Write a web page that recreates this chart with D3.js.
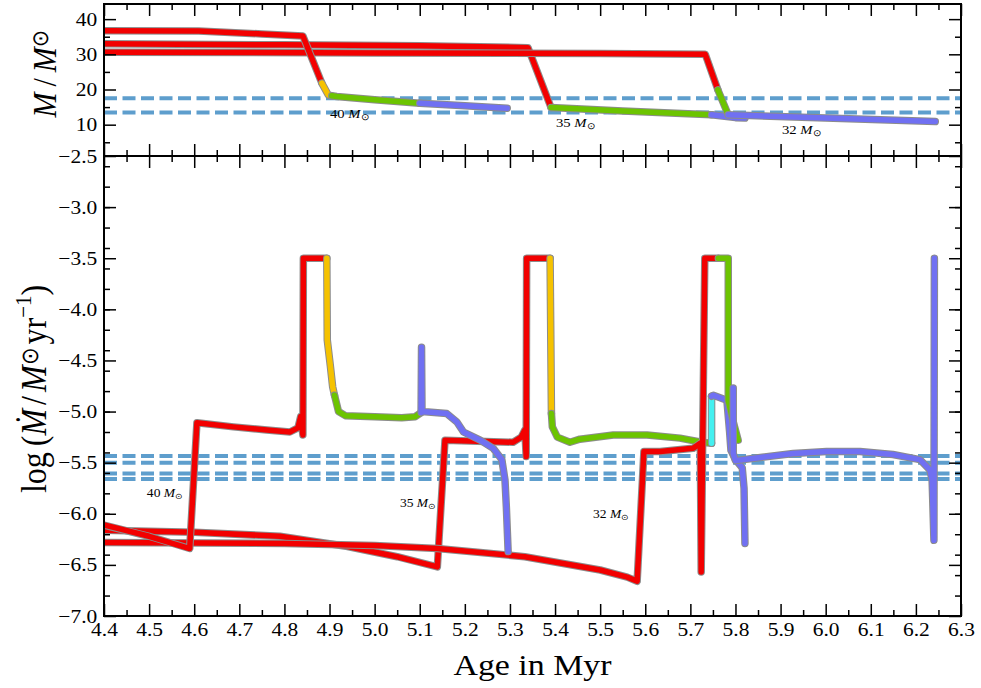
<!DOCTYPE html>
<html>
<head>
<meta charset="utf-8">
<script src="https://cdn.jsdelivr.net/npm/d3@7"></script>
<style>
  body { margin: 0; background: #fff; }
  text { font-family: "Liberation Serif", "Times New Roman", serif; fill: #000; }
</style>
</head>
<body>
<script>
// ---- data ----
const ageTicks = [4.4, 4.5, 4.6, 4.7, 4.8, 4.9, 5.0, 5.1, 5.2, 5.3, 5.4, 5.5, 5.6, 5.7, 5.8, 5.9, 6.0, 6.1, 6.2, 6.3];
const massTicks = [10, 20, 30, 40];
const massMinor = [5, 15, 25, 35];
const mdotTicks = [-2.5, -3.0, -3.5, -4.0, -4.5, -5.0, -5.5, -6.0, -6.5, -7.0];

const massLevels = [17.5, 13.45];
const mdotLevels = [-5.435, -5.50, -5.605, -5.66];

// mass tracks (Msun) : [phase, [[age, M], ...]]
const mass40 = [
  ["red", [[4.40, 36.7], [4.61, 36.6], [4.75, 35.8], [4.841, 35.2], [4.883, 21.8]]],
  ["yellow", [[4.883, 21.8], [4.897, 18.5], [4.905, 18.2]]],
  ["green", [[4.905, 18.2], [4.916, 18.0], [5.0, 17.1], [5.10, 16.1]]],
  ["blue", [[5.10, 16.1], [5.2, 15.4], [5.294, 14.7]]]
];
const mass35 = [
  ["red", [[4.40, 33.0], [4.8, 32.7], [5.1, 32.4], [5.34, 31.9], [5.391, 14.9]]],
  ["green", [[5.391, 14.9], [5.55, 13.9], [5.747, 12.8]]],
  ["blue", [[5.747, 12.8], [5.80, 12.0], [5.821, 11.9]]]
];
const mass32 = [
  ["red", [[4.40, 30.6], [5.0, 30.4], [5.5, 30.2], [5.733, 30.0], [5.761, 19.9]]],
  ["green", [[5.761, 19.9], [5.784, 12.8]]],
  ["blue", [[5.784, 12.8], [6.0, 11.9], [6.243, 10.9]]]
];

// mass-loss tracks (log Mdot)
const mdot40 = [
  ["red", [[4.40, -6.11], [4.50, -6.22], [4.59, -6.34], [4.606, -5.11], [4.687, -5.15], [4.761, -5.18],
           [4.812, -5.20], [4.83, -5.16], [4.836, -5.05], [4.841, -5.23], [4.842, -3.5], [4.894, -3.5]]],
  ["yellow", [[4.894, -3.5], [4.895, -4.3], [4.902, -4.56], [4.907, -4.76], [4.911, -4.84]]],
  ["green", [[4.911, -4.84], [4.92, -5.0], [4.935, -5.04], [5.0, -5.05], [5.06, -5.06], [5.09, -5.05], [5.103, -5.01]]],
  ["blue", [[5.103, -5.01], [5.104, -4.37], [5.105, -5.0], [5.16, -5.02], [5.182, -5.10], [5.197, -5.20],
            [5.234, -5.28], [5.263, -5.36], [5.282, -5.47], [5.289, -5.67], [5.292, -5.93], [5.296, -6.37]]]
];
const mdot35 = [
  ["red", [[4.40, -6.16], [4.60, -6.18], [4.79, -6.22], [4.94, -6.32], [5.05, -6.42], [5.139, -6.52],
           [5.156, -5.28], [5.307, -5.30], [5.325, -5.25], [5.333, -5.18], [5.336, -5.44], [5.337, -3.5], [5.389, -3.5]]],
  ["yellow", [[5.389, -3.5], [5.392, -5.02]]],
  ["green", [[5.392, -5.02], [5.394, -5.15], [5.405, -5.25], [5.433, -5.30], [5.455, -5.27], [5.529, -5.23],
             [5.604, -5.23], [5.677, -5.26], [5.725, -5.30], [5.747, -5.31]]],
  ["cyan", [[5.747, -5.31], [5.747, -4.85]]],
  ["blue", [[5.747, -4.85], [5.751, -4.84], [5.781, -4.89], [5.787, -5.2], [5.79, -5.38], [5.80, -5.47],
            [5.815, -5.55], [5.819, -5.75], [5.821, -6.29]]]
];
const mdot32 = [
  ["red", [[4.40, -6.28], [4.80, -6.29], [5.00, -6.31], [5.139, -6.34], [5.333, -6.42], [5.5, -6.55], [5.56, -6.62],
           [5.582, -6.66], [5.597, -5.39], [5.633, -5.39], [5.706, -5.36], [5.722, -5.31], [5.724, -6.57],
           [5.732, -3.5], [5.762, -3.5]]],
  ["green", [[5.762, -3.5], [5.784, -3.5], [5.784, -4.89], [5.795, -5.1], [5.806, -5.28]]],
  ["blue", [[5.795, -4.77], [5.795, -5.41], [5.80, -5.48], [5.855, -5.45], [5.928, -5.41], [6.002, -5.39],
            [6.076, -5.39], [6.149, -5.42], [6.209, -5.47], [6.231, -5.57], [6.236, -5.67], [6.240, -6.26], [6.241, -3.5]]]
];

// track labels: [text, age, value]
const massLabels = [["40", 4.901, 11.9], ["35", 5.402, 9.4], ["32", 5.903, 7.4]];
const mdotLabels = [["40", 4.495, -5.84], ["35", 5.056, -5.93], ["32", 5.484, -6.04]];

const phaseColors = { red: "#f20000", yellow: "#f5c200", green: "#6cc400", blue: "#7070f2", cyan: "#44f0f0" };

// ---- layout ----
const width = 981, height = 688;
const SX = 1.13; // the figure's text is slightly stretched horizontally

const svg = d3.select("body").append("svg").attr("width", width).attr("height", height);

const x = d3.scaleLinear().domain([4.4, 6.3]).range([104, 961]);
const yTop = d3.scaleLinear().domain([1.1, 44.3]).range([156, 4]);
const yBot = d3.scaleLinear().domain([-7, -2.5]).range([616, 156]);

const line = y => d3.line().x(d => x(d[0])).y(d => y(d[1]));

function panel(id, y) {
  const [y0, y1] = y.range();
  svg.append("clipPath").attr("id", id).append("rect")
    .attr("x", 104).attr("y", y1).attr("width", 857).attr("height", y0 - y1);
  return svg.append("g").attr("clip-path", `url(#${id})`);
}

function dashed(g, y, levels) {
  g.selectAll(null).data(levels).enter().append("line")
    .attr("x1", 104).attr("x2", 961)
    .attr("y1", d => y(d)).attr("y2", d => y(d))
    .attr("stroke", "#5e9ecd").attr("stroke-width", 4)
    .attr("stroke-dasharray", "13,5.5");
}

function drawTrack(g, y, track) {
  const ln = line(y);
  track.forEach(([phase, pts]) => {
    g.append("path").attr("d", ln(pts)).attr("fill", "none")
      .attr("stroke", "#8c8c8c").attr("stroke-width", 7.5)
      .attr("stroke-linejoin", "round").attr("stroke-linecap", "round");
    g.append("path").attr("d", ln(pts)).attr("fill", "none")
      .attr("stroke", phaseColors[phase]).attr("stroke-width", 5.5)
      .attr("stroke-linejoin", "round").attr("stroke-linecap", "round");
  });
}

function trackLabels(g, y, labels, size) {
  labels.forEach(([t, a, v]) => {
    const txt = g.append("g").attr("transform", `translate(${x(a)},${y(v)}) scale(${SX},1)`)
      .append("text").attr("font-size", size);
    txt.append("tspan").text(t + " ");
    txt.append("tspan").attr("font-style", "italic").text("M");
    txt.append("tspan").attr("font-size", size * 0.7).attr("dy", 2).text("⊙");
  });
}

function axes(y, major, minor, fmt, showX) {
  const [y0, y1] = y.range();
  const ag = svg.append("g").attr("class", "axes");
  const minorAge = d3.range(4.45, 6.3, 0.1);
  ag.append("g").attr("transform", `translate(0,${y0})`)
    .call(d3.axisBottom(x).tickValues(ageTicks).tickSize(-12).tickPadding(7)
      .tickFormat(showX ? d3.format(".1f") : ""));
  ag.append("g").attr("transform", `translate(0,${y0})`)
    .call(d3.axisBottom(x).tickValues(minorAge).tickSize(-6).tickFormat(""));
  ag.append("g").attr("transform", `translate(0,${y1})`)
    .call(d3.axisTop(x).tickValues(ageTicks).tickSize(-12).tickFormat(""));
  ag.append("g").attr("transform", `translate(0,${y1})`)
    .call(d3.axisTop(x).tickValues(minorAge).tickSize(-6).tickFormat(""));
  ag.append("g").attr("transform", "translate(104,0)")
    .call(d3.axisLeft(y).tickValues(major).tickSize(-12).tickPadding(6).tickFormat(fmt));
  ag.append("g").attr("transform", "translate(104,0)")
    .call(d3.axisLeft(y).tickValues(minor).tickSize(-6).tickFormat(""));
  ag.append("g").attr("transform", "translate(961,0)")
    .call(d3.axisRight(y).tickValues(major).tickSize(-12).tickFormat(""));
  ag.append("g").attr("transform", "translate(961,0)")
    .call(d3.axisRight(y).tickValues(minor).tickSize(-6).tickFormat(""));
  ag.selectAll(".domain").remove();
  ag.selectAll(".tick line").attr("stroke", "#000").attr("stroke-width", 1.5);
  ag.selectAll(".tick text").attr("font-size", 19)
    .attr("transform", `scale(${SX},1)`);
  svg.append("rect").attr("x", 104).attr("y", y1).attr("width", 857).attr("height", y0 - y1)
    .attr("fill", "none").attr("stroke", "#000").attr("stroke-width", 2);
}

// ---- top panel: mass ----
const gTop = panel("clipTop", yTop);
dashed(gTop, yTop, massLevels);
[mass35, mass32, mass40].forEach(t => drawTrack(gTop, yTop, t));
trackLabels(svg, yTop, massLabels, 13);

// ---- bottom panel: mass-loss rate ----
const gBot = panel("clipBot", yBot);
dashed(gBot, yBot, mdotLevels);
[mdot35, mdot32, mdot40].forEach(t => drawTrack(gBot, yBot, t));
trackLabels(svg, yBot, mdotLabels, 12);

axes(yBot, mdotTicks, d3.range(-6.8, -2.55, 0.2), d3.format(".1f"), true);
axes(yTop, massTicks, massMinor, d3.format("d"), false);

// ---- axis titles ----
svg.append("g").attr("transform", `translate(532.5,675) scale(${SX},1)`)
  .append("text").attr("text-anchor", "middle").attr("font-size", 30).text("Age in Myr");

const ytTop = svg.append("g").attr("transform", "translate(56,74) rotate(-90) scale(1,1.13)")
  .append("text").attr("text-anchor", "middle").attr("font-size", 30);
ytTop.append("tspan").attr("font-style", "italic").text("M");
ytTop.append("tspan").attr("dx", 6).text("/");
ytTop.append("tspan").attr("dx", 6).attr("font-style", "italic").text("M");
ytTop.append("tspan").attr("font-size", 20).attr("dy", -7).text("⊙");

const ytBot = svg.append("g").attr("transform", "translate(46,389) rotate(-90) scale(1,1.13)")
  .append("text").attr("text-anchor", "middle").attr("font-size", 32);
ytBot.append("tspan").text("log");
ytBot.append("tspan").attr("dx", 6).text("(");
ytBot.append("tspan").attr("font-style", "italic").text("Ṁ");
ytBot.append("tspan").attr("dx", 4).text("/");
ytBot.append("tspan").attr("dx", 4).attr("font-style", "italic").text("M");
ytBot.append("tspan").attr("font-size", 21).attr("dy", -7).text("⊙");
ytBot.append("tspan").attr("dx", 4).attr("dy", 7).text("yr");
ytBot.append("tspan").attr("font-size", 21).attr("dy", -13).text("−1");
ytBot.append("tspan").attr("dy", 13).text(")");
</script>
</body>
</html>
